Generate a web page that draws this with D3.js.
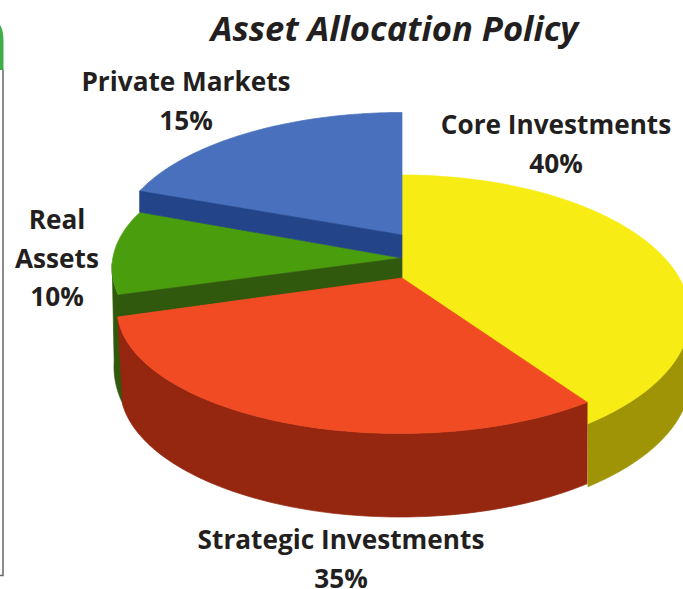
<!DOCTYPE html>
<html><head><meta charset="utf-8">
<script src="https://cdn.jsdelivr.net/npm/d3@7"></script>
<style>html,body{margin:0;padding:0;background:#fff;overflow:hidden}svg{display:block}
text{font-family:"Open Sans",sans-serif;font-weight:700;fill:#231f20;text-anchor:middle}</style>
</head><body><svg id="c" width="683" height="589"></svg>
<script>
const titleText = "Asset Allocation Policy";
const categories = ["Core Investments","Strategic Investments","Real Assets","Private Markets"];
const values = [40,35,10,15];
const topColors = ["#F7EC13","#F04B22","#4A9D0C","#4870BD"];
const sideColors = ["#9F9306","#95260F","#30590E","#234488"];

// Artwork geometry: each wedge is its own hand-drawn layer with its own ellipse.
const W = 683, H = 589;
const layers = [
 {vertex:[402,278], top:[402,316,288,141], sweep:[0,139.8],
  rim:{a:[90,139.8], bottom:[402,379,288,141], b:[90,139.8]}},
 {vertex:[402,278], top:[400,308.5,283,125], sweep:[138.6,266.1],
  rim:{a:[138.6,266.1], bottom:[400,387,280,130], b:[138.1,262]}},
 {vertex:[402,258], top:[402,268,290,130], sweep:[258,295.5], wall:[22,20.5],
  rim:{a:[258,272], bottom:[402,367,288,150], b:[252,272]}},
 {vertex:[402,235], top:[402,241.5,285,129], sweep:[293,360], wall:[21,23]}
];
const drawOrder = [0,2,3,1];

const svg = d3.select("#c");
const pie = d3.pie().sort(null).value(d=>d);
const arcs = pie(values);
const line = d3.line();
const rad = d=>d*Math.PI/180;
const pt = (e,t)=>[e[0]+e[2]*Math.sin(rad(t)), e[1]-e[3]*Math.cos(rad(t))];
const sample = (e,a,b)=>d3.range(0,81).map(i=>pt(e,a+(b-a)*i/80));
const fillPath = (d,color)=>svg.append("path").attr("d",d).attr("fill",color)
  .attr("stroke",color).attr("stroke-width",0.7).attr("stroke-linejoin","round");

// Left page fragment
svg.append("path").attr("d","M0,25 C2.5,29 3.5,34 3.5,42 L3.5,70 L0,70 Z").attr("fill","#3FAE49");
svg.append("path").attr("d","M3,70 L3,575.5 L0,575.5").attr("fill","none").attr("stroke","#666").attr("stroke-width",1.5);

drawOrder.forEach(i=>{
  const L = layers[i], A = arcs[i];
  const toView = d3.scaleLinear().domain([A.startAngle,A.endAngle]).range(L.sweep);
  const pts = sample(L.top,toView(A.startAngle),toView(A.endAngle));
  if(L.rim){
    const r=L.rim;
    const side = sample(L.top,r.a[0],r.a[1]).concat(sample(r.bottom,r.b[1],r.b[0]));
    fillPath(line(side)+"Z",sideColors[i]);
  }
  fillPath(line([L.vertex].concat(pts))+"Z",topColors[i]);
  if(L.wall){
    const c=pts[0], v=L.vertex, h=L.wall;
    fillPath(line([c,v,[v[0],v[1]+h[1]],[c[0],c[1]+h[0]]])+"Z",sideColors[i]);
  }
});

svg.append("text").attr("x",394.5).attr("y",41).attr("font-size",34.6).attr("font-style","italic").text(titleText);
const labelLines = [[categories[0]],[categories[1]],["Real","Assets"],[categories[3]]];
const labelAnchor = [[556,134],[341,549],[57,229],[186,91]];
const labelStep = 38.5;
labelLines.forEach((lines,i)=>{
  const all = lines.concat([values[i]+"%"]);
  all.forEach((t,j)=>svg.append("text").attr("x",labelAnchor[i][0]).attr("y",labelAnchor[i][1]+j*labelStep).attr("font-size",26.2).text(t));
});
</script></body></html>
